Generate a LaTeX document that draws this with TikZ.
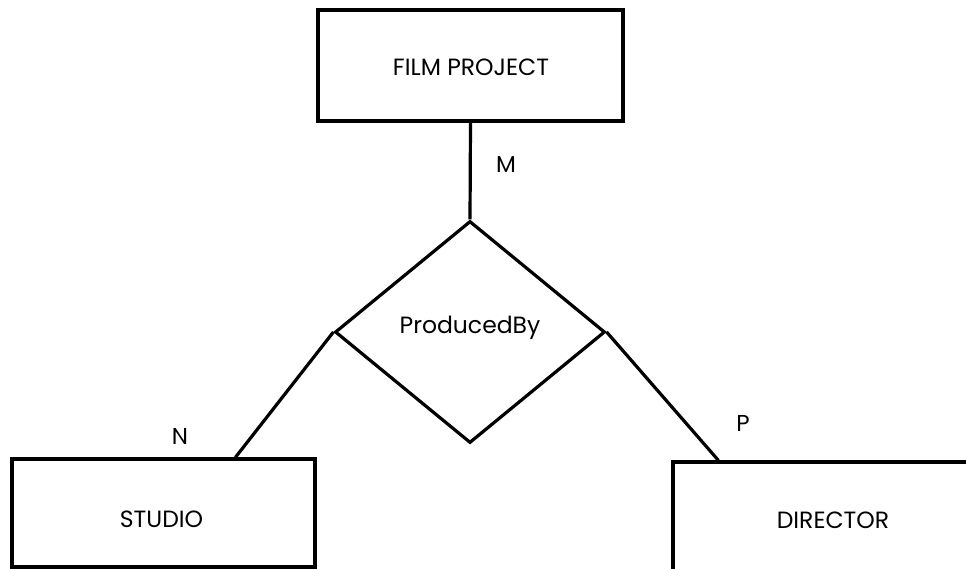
\documentclass[tikz,border=0pt]{standalone}
\usepackage{fontspec}
\setmainfont{Poppins}
\usetikzlibrary{shapes.geometric,calc}
\begin{document}
\begin{tikzpicture}[x=1pt,y=-1pt,
  line width=3.2pt,
  entity/.style={draw, rectangle, inner sep=0pt},
  relation/.style={draw, diamond, inner sep=0pt, minimum width=270pt, minimum height=222pt},
  txt/.style={anchor=base, inner sep=0pt, font=\fontsize{23.5}{28}\selectfont},
  card/.style={anchor=base, inner sep=0pt, font=\fontsize{23}{27}\selectfont}]
  \clip (0,0) rectangle (966,569);
  \fill[white] (0,0) rectangle (966,569);

  % entity boxes
  \node[entity, minimum width=305pt, minimum height=111pt] (film) at (470.5,65.5) {};
  \node[entity, minimum width=303pt, minimum height=108pt] (studio) at (163.5,513) {};
  \node[entity, minimum width=320pt, minimum height=112pt] (director) at (833,518) {};

  % relationship
  \node[relation] (rel) at (470,332) {};

  % names
  \node[txt] (filmtxt) at (471,76) {FILM PROJECT};
  \node[txt] (studiotxt) at (161.5,527) {STUDIO};
  \node[txt] (directortxt) at (833,528) {DIRECTOR};
  \node[txt] (reltxt) at (470,333) {ProducedBy};

  % connectors
  \coordinate (studioend) at ($(studio.north west)+(225,0)$);
  \coordinate (directorend) at ($(director.north west)+(47,0)$);
  \draw (film.south) -- (rel.north);
  \draw (rel.west) -- (studioend);
  \draw (rel.east) -- (directorend);

  % cardinalities
  \node[card] (cM) at (506,173) {M};
  \node[card] (cN) at (180,444) {N};
  \node[card] (cP) at (743,431) {P};
\end{tikzpicture}
\end{document}
